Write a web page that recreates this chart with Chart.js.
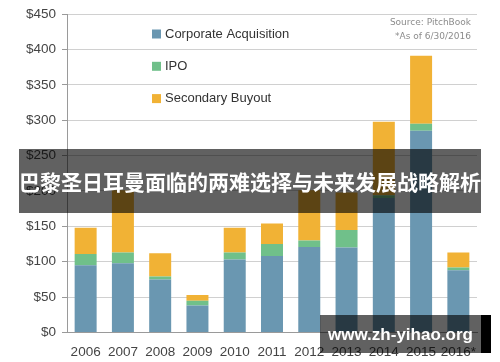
<!DOCTYPE html>
<html>
<head>
<meta charset="utf-8">
<script src="https://cdn.jsdelivr.net/npm/chart.js@4.4.1/dist/chart.umd.min.js"></script>
<style>
  body { margin: 0; background: #fff; }
  #wrap { position: relative; width: 500px; height: 362px; overflow: hidden; }
  #banner {
    position: absolute; left: 19px; top: 149px; width: 462px; height: 64px;
    background: rgba(0,0,0,0.62); color: #fff;
    font: bold 21px "Noto Sans CJK SC", sans-serif;
    line-height: 64px; text-align: center; white-space: nowrap;
  }
  #mark {
    position: absolute; left: 320px; top: 315px; width: 161px; height: 38px;
    background: rgba(0,0,0,0.62); color: #fff;
    font: bold 17px "Liberation Sans", Arial, sans-serif;
    line-height: 40px; text-align: center;
  }
  #markEdge { position: absolute; left: 481px; top: 315px; width: 10px; height: 38px; background: #000; }
</style>
</head>
<body>
<div id="wrap">
  <canvas id="chart" width="500" height="362"></canvas>
  <div id="banner">巴黎圣日耳曼面临的两难选择与未来发展战略解析</div>
  <div id="mark">www.zh-yihao.org</div>
  <div id="markEdge"></div>
</div>
<script>
// categories and stacked values ($M)
var years = ["2006", "2007", "2008", "2009", "2010", "2011", "2012", "2013", "2014", "2015", "2016*"];
var corporate = [95, 98, 75, 38, 103, 108, 121, 120, 190, 285, 88];
var ipo = [16, 15, 4, 7, 10, 17, 9, 25, 4, 10, 4];
var secondary = [37, 88, 33, 8, 35, 29, 71, 53, 104, 96, 21];
var yTicks = [0, 50, 100, 150, 200, 250, 300, 350, 400, 450];
var sourceLines = ["Source: PitchBook", "*As of 6/30/2016"];

// legend inside the plot + source note
var notes = {
    id: "notes",
    afterDraw: function(chart) {
        var ctx = chart.ctx;
        ctx.save();
        ctx.textBaseline = "middle";
        ctx.font = "13px 'Liberation Sans', Arial, sans-serif";
        chart.data.datasets.forEach(function(ds, i) {
            var y = 34 + i * 32.3;
            ctx.fillStyle = ds.backgroundColor;
            ctx.fillRect(152, y - 4.5, 9, 9);
            ctx.fillStyle = "#333";
            ctx.fillText(ds.label, 165, y);
        });
        ctx.font = "9px 'DejaVu Sans', sans-serif";
        ctx.fillStyle = "#8c8c8c";
        ctx.textAlign = "right";
        sourceLines.forEach(function(t, i) {
            ctx.fillText(t, 471, 23 + i * 13.5);
        });
        ctx.restore();
    }
};

var ctx1 = document.getElementById("chart");

var chart1 = new Chart(ctx1, {
    type: "bar",
    data: {
        labels: years,
        datasets: [
            { label: "Corporate Acquisition", data: corporate, backgroundColor: "#6a97b1" },
            { label: "IPO", data: ipo, backgroundColor: "#70c08a" },
            { label: "Secondary Buyout", data: secondary, backgroundColor: "#f1b235" }
        ]
    },
    options: {
        responsive: false,
        animation: false,
        layout: { padding: { top: 14, right: 23, left: 0, bottom: 0 } },
        datasets: { bar: { barPercentage: 0.59, categoryPercentage: 1 } },
        plugins: { legend: { display: false }, tooltip: { enabled: false } },
        scales: {
            x: {
                stacked: true,
                grid: { display: false },
                border: { display: true, color: "#9a9a9a", width: 1 },
                ticks: {
                    color: "#444", padding: 4, autoSkip: false, minRotation: 0, maxRotation: 0,
                    font: { family: "'Liberation Sans', Arial, sans-serif", size: 13.5 }
                },
                afterFit: function(scale) { scale.height = 29.5; }
            },
            y: {
                stacked: true,
                min: 0,
                max: 450,
                afterBuildTicks: function(scale) {
                    scale.ticks = yTicks.map(function(v) { return { value: v }; });
                },
                grid: { color: "#d0d0d0", tickLength: 5, tickColor: "#9a9a9a" },
                border: { display: true, color: "#9a9a9a" },
                ticks: {
                    color: "#444", padding: 6,
                    font: { family: "'Liberation Sans', Arial, sans-serif", size: 13.5 },
                    callback: function(v) { return "$" + v; }
                },
                afterFit: function(scale) { scale.width = 67; }
            }
        }
    },
    plugins: [notes]
});
</script>
</body>
</html>
